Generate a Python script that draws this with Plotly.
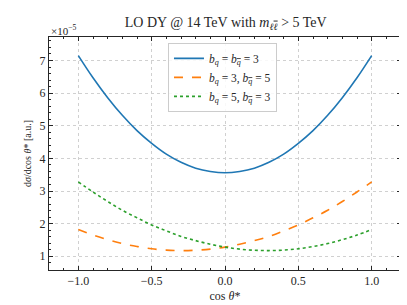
import plotly.graph_objects as go

cos_theta = [-1.0, -0.9, -0.8, -0.7, -0.6, -0.5, -0.4, -0.3, -0.2, -0.1, 0.0,
             0.1, 0.2, 0.3, 0.4, 0.5, 0.6, 0.7, 0.8, 0.9, 1.0]
# values in units of 1e-5
blue_bq3 = [7.15, 6.47, 5.86, 5.32, 4.85, 4.46, 4.13, 3.88, 3.70, 3.60, 3.56,
            3.60, 3.70, 3.88, 4.13, 4.46, 4.85, 5.32, 5.86, 6.47, 7.15]
orange_bq3_bqb5 = [1.82, 1.65, 1.51, 1.39, 1.30, 1.23, 1.19, 1.175, 1.185, 1.22, 1.28,
                   1.37, 1.48, 1.61, 1.78, 1.96, 2.18, 2.41, 2.68, 2.97, 3.28]
green_bq5_bqb3 = [3.28, 2.97, 2.68, 2.41, 2.18, 1.96, 1.78, 1.61, 1.48, 1.37, 1.28,
                  1.22, 1.185, 1.175, 1.19, 1.23, 1.30, 1.39, 1.51, 1.65, 1.82]

QB = "<span style='text-decoration:overline'>q</span>"
labels = [
    f"<i>b<sub>q</sub></i> = <i>b<sub>{QB}</sub></i> = 3",
    f"<i>b<sub>q</sub></i> = 3, <i>b<sub>{QB}</sub></i> = 5",
    f"<i>b<sub>q</sub></i> = 5, <i>b<sub>{QB}</sub></i> = 3",
]
x_ticks = [-1.0, -0.5, 0.0, 0.5, 1.0]
y_ticks = [1, 2, 3, 4, 5, 6, 7]

SERIF = "Liberation Serif, DejaVu Serif, serif"
INK = "#262626"

fig = go.Figure()
fig.add_trace(go.Scatter(x=cos_theta, y=blue_bq3, mode="lines", name=labels[0],
                         line=dict(color="#1f77b4", width=1.6, shape="spline")))
fig.add_trace(go.Scatter(x=cos_theta, y=orange_bq3_bqb5, mode="lines", name=labels[1],
                         line=dict(color="#ff7f0e", width=1.6, dash="dash", shape="spline")))
fig.add_trace(go.Scatter(x=cos_theta, y=green_bq5_bqb3, mode="lines", name=labels[2],
                         line=dict(color="#2ca02c", width=1.6, dash="dot", shape="spline")))

axis_common = dict(
    showline=True, linecolor=INK, linewidth=1, mirror="ticks",
    ticks="inside", ticklen=4, tickwidth=0.8, tickcolor=INK,
    showgrid=True, gridcolor="#d0d0d0", griddash="dot", gridwidth=0.7,
    zeroline=False, automargin=False,
    tickfont=dict(family=SERIF, size=12, color=INK),
)

fig.update_xaxes(range=[-1.2, 1.2], tickvals=x_ticks,
                 ticktext=[f"{v:.1f}".replace("-", "−") for v in x_ticks],
                 minor=dict(dtick=0.1, tick0=0, ticks="inside", ticklen=2, tickwidth=0.6,
                            tickcolor=INK, showgrid=False),
                 title=dict(text="cos <i>θ</i>*", font=dict(family=SERIF, size=12, color=INK),
                            standoff=4),
                 **axis_common)
fig.update_yaxes(range=[0.58, 7.72], tickvals=y_ticks,
                 minor=dict(dtick=0.2, tick0=0, ticks="inside", ticklen=2, tickwidth=0.6,
                            tickcolor=INK, showgrid=False),
                 title=dict(text="d<i>σ</i>/dcos <i>θ</i>* [a.u.]",
                            font=dict(family=SERIF, size=10, color=INK), standoff=6),
                 **axis_common)

fig.update_layout(
    width=407, height=305,
    margin=dict(l=41, r=14, t=29, b=43, autoexpand=False),
    paper_bgcolor="white", plot_bgcolor="white",
    title=dict(text="LO DY @ 14 TeV with <i>m<sub>ℓ<span style='text-decoration:overline'>ℓ</span></sub></i> > 5 TeV",
               x=0.535, xanchor="center", y=0.955, yanchor="middle",
               font=dict(family=SERIF, size=14, color=INK)),
    legend=dict(x=0.338, y=0.975, xanchor="left", yanchor="top",
                bgcolor="rgba(255,255,255,0.85)", bordercolor="#cccccc", borderwidth=1,
                font=dict(family=SERIF, size=11.5, color=INK), itemwidth=30,
                tracegroupgap=0),
    showlegend=True,
    annotations=[dict(text="×10<sup>−5</sup>", x=0, y=1, xref="paper", yref="paper",
                      xanchor="left", yanchor="bottom", showarrow=False,
                      font=dict(family=SERIF, size=11, color=INK), yshift=-2)],
)

fig.write_html("out.html")
